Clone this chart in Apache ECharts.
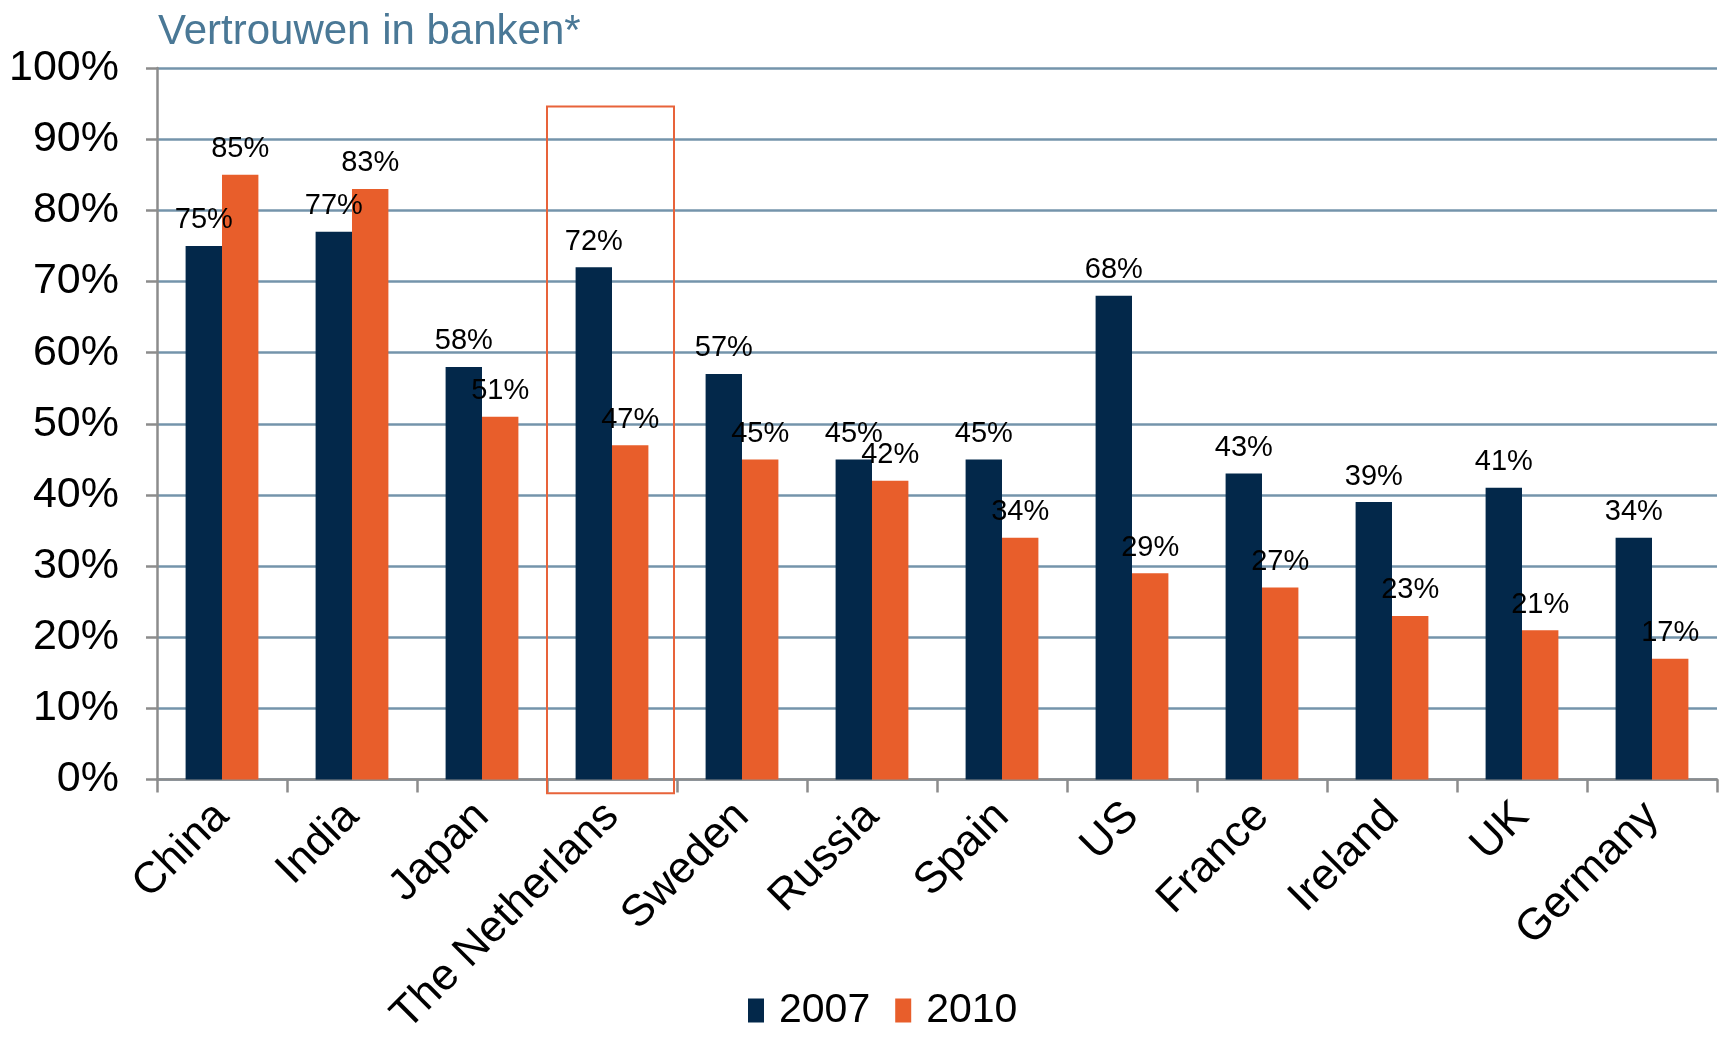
<!DOCTYPE html>
<html>
<head>
<meta charset="utf-8">
<script src="https://cdn.jsdelivr.net/npm/echarts@6/dist/echarts.min.js"></script>
<style>
html,body{margin:0;padding:0;background:#fff;}
#chart{width:1723px;height:1040px;}
</style>
</head>
<body>
<div id="chart"></div>
<script>
const titleText = 'Vertrouwen in banken*';
const categories = ['China','India','Japan','The Netherlans','Sweden','Russia','Spain','US','France','Ireland','UK','Germany'];
const seriesNames = ['2007','2010'];
const values2007 = [75,77,58,72,57,45,45,68,43,39,41,34];
const values2010 = [85,83,51,47,45,42,34,29,27,23,21,17];
const yTicks = [0,10,20,30,40,50,60,70,80,90,100];
const highlightCategory = 'The Netherlans';
const highlightTop = 94.6;
const highlightBottom = -1.9;

const FONT = '"Liberation Sans", Arial, sans-serif';
const chart = echarts.init(document.getElementById('chart'), null, {renderer:'canvas'});

const labelCfg = {
  show: true, position: 'top', distance: 11,
  formatter: p => p.value + '%',
  color: '#000', fontFamily: FONT, fontSize: 29
};

chart.setOption({
  animation: false,
  backgroundColor: '#fff',
  textStyle: {fontFamily: FONT},
  title: {
    text: titleText, left: 153, top: 6,
    textStyle: {color: '#4a7896', fontFamily: FONT, fontSize: 42, fontWeight: 'normal'}
  },
  legend: {
    data: seriesNames, left: 748, top: 990, padding: 0,
    icon: 'rect', itemWidth: 16, itemHeight: 24, itemGap: 25,
    textStyle: {color: '#000', fontFamily: FONT, fontSize: 41, padding: [0,0,0,10]}
  },
  grid: {left: 157, right: 6, top: 68, bottom: 251, containLabel: false},
  xAxis: {
    type: 'category', data: categories,
    boundaryGap: true,
    axisLine: {show: true, lineStyle: {color: '#8c8c8c', width: 2.5}},
    axisTick: {show: true, length: 13, lineStyle: {color: '#8c8c8c', width: 2.5}},
    axisLabel: {rotate: 45, margin: 30, color: '#000', fontFamily: FONT, fontSize: 44, interval: 0},
    splitLine: {show: false}
  },
  yAxis: {
    type: 'value', min: 0, max: 100, interval: 10,
    axisLine: {show: true, lineStyle: {color: '#8c8c8c', width: 2.5}},
    axisTick: {show: true, length: 11, lineStyle: {color: '#8c8c8c', width: 2.5}},
    axisLabel: {margin: 38, color: '#000', fontFamily: FONT, fontSize: 43,
      formatter: v => yTicks.indexOf(v) >= 0 ? v + '%' : ''},
    splitLine: {show: true, lineStyle: {color: '#7494ab', width: 2.5}}
  },
  series: [
    {name: seriesNames[0], type: 'bar', data: values2007, barGap: '0%', barCategoryGap: '44%',
      itemStyle: {color: '#03284a'}, label: labelCfg, z: 3},
    {name: seriesNames[1], type: 'bar', data: values2010, barGap: '0%', barCategoryGap: '44%',
      itemStyle: {color: '#e85e2b'}, label: labelCfg, z: 3}
  ]
});

function drawHighlight(){
  const idx = categories.indexOf(highlightCategory);
  const c0 = chart.convertToPixel({xAxisIndex:0}, idx);
  const c1 = chart.convertToPixel({xAxisIndex:0}, idx+1);
  const band = c1 - c0;
  const yT = chart.convertToPixel({yAxisIndex:0}, highlightTop);
  const yB = chart.convertToPixel({yAxisIndex:0}, highlightBottom);
  chart.setOption({
    graphic: [{
      type: 'rect', z: 100, silent: true,
      shape: {x: c0 - band/2, y: yT, width: band - 3, height: yB - yT},
      style: {fill: 'none', stroke: '#e8633a', lineWidth: 2}
    }]
  });
}
drawHighlight();
</script>
</body>
</html>
